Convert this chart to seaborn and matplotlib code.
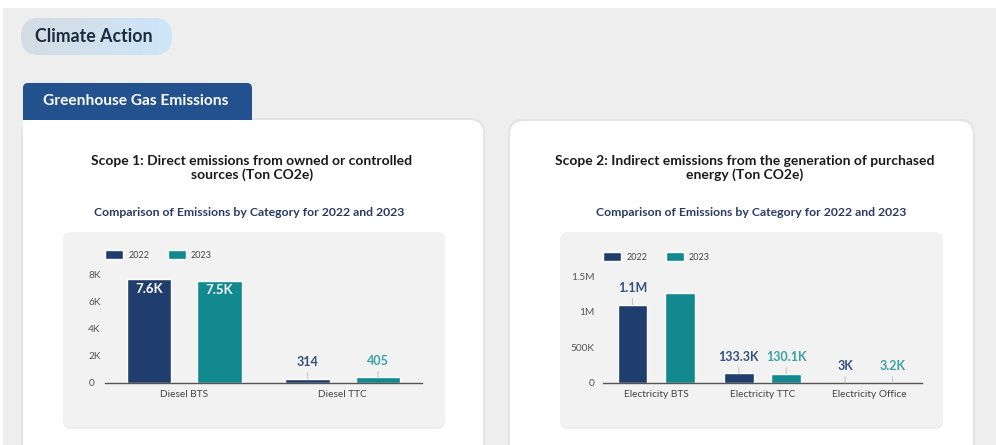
import numpy as np
import pandas as pd
import matplotlib
matplotlib.use("Agg")
import matplotlib.pyplot as plt
import seaborn as sns
from matplotlib.patches import FancyBboxPatch, Rectangle, Patch
from matplotlib.colors import LinearSegmentedColormap

# ---- data -------------------------------------------------------------
years = ["2022", "2023"]

scope1_categories = ["Diesel BTS", "Diesel TTC"]
scope1_2022 = [7600, 314]
scope1_2023 = [7500, 405]
scope1_labels_2022 = ["7.6K", "314"]
scope1_labels_2023 = ["7.5K", "405"]
scope1_ticks = [0, 2000, 4000, 6000, 8000]

scope2_categories = ["Electricity BTS", "Electricity TTC", "Electricity Office"]
scope2_2022 = [1100000, 133300, 3000]
scope2_2023 = [1260000, 130100, 3200]
scope2_labels_2022 = ["1.1M", "133.3K", "3K"]
scope2_labels_2023 = ["", "130.1K", "3.2K"]
scope2_ticks = [0, 500000, 1000000, 1500000]

NAVY = "#1f3d6d"
TEAL = "#11898e"
LABEL_COLORS = ["#34507f", "#3aa0a6"]

sns.set_theme(style="white")
plt.rcParams["font.family"] = ["Lato", "DejaVu Sans"]

W, H = 996, 445
fig = plt.figure(figsize=(W / 100, H / 100), dpi=100)
fig.patch.set_facecolor("white")

# background canvas in pixel units
bg = fig.add_axes([0, 0, 1, 1])
bg.axis("off")


def box(x0, y0, x1, y1, r, fc, z=1, **kw):
    p = FancyBboxPatch((x0, y0), x1 - x0, y1 - y0,
                       boxstyle=f"round,pad=0,rounding_size={r}",
                       fc=fc, ec="none", zorder=z, **kw)
    bg.add_patch(p)
    return p


bg.add_patch(Rectangle((3, 8), W, H, fc="#eeeeee", ec="none", zorder=0))

# "Climate Action" pill with gradient
pill = box(21, 18, 172, 55, 18, "none", z=2)
grad = np.linspace(0, 1, 256).reshape(1, -1)
cmap = LinearSegmentedColormap.from_list("pill", ["#d5dce3", "#cce6f9"])
bg.imshow(grad, extent=(21, 172, 55, 18), cmap=cmap, aspect="auto",
          clip_path=pill, zorder=2)
bg.text(35, 36, "Climate Action", fontsize=12.8, fontweight="bold",
        color="#1c2b3f", va="center", ha="left", zorder=3)

# cards
box(21, 118, 485, 490, 15, "#000000", z=1, alpha=0.04)
box(508, 119, 975, 490, 15, "#000000", z=1, alpha=0.04)
box(23, 120, 483, 490, 14, "white", z=3)
bg.add_patch(Rectangle((23, 120), 20, 20, fc="white", ec="none", zorder=3))
box(510, 121, 973, 490, 14, "white", z=3)

# tab
box(23, 83, 252, 130, 5, "#22518e", z=2)
bg.text(43, 101, "Greenhouse Gas Emissions", fontsize=11.2, fontweight="bold",
        color="white", va="center", ha="left", zorder=4)

# chart panels
box(63, 234, 445, 429, 8, "#000000", z=4, alpha=0.07)
box(63, 232, 445, 427, 8, "#f2f2f2", z=4)
box(560, 234, 943, 429, 8, "#000000", z=4, alpha=0.07)
box(560, 232, 943, 427, 8, "#f2f2f2", z=4)

# titles
bg.text(252, 168, "Scope 1: Direct emissions from owned or controlled\nsources (Ton CO2e)",
        ha="center", va="center", fontsize=10, fontweight="bold",
        color="#1a1a1a", linespacing=1.2, zorder=5)
bg.text(249, 213, "Comparison of Emissions by Category for 2022 and 2023",
        ha="center", va="center", fontsize=8.8, fontweight="bold",
        color="#2b3a63", zorder=5)
bg.text(745, 168, "Scope 2: Indirect emissions from the generation of purchased\nenergy (Ton CO2e)",
        ha="center", va="center", fontsize=10, fontweight="bold",
        color="#1a1a1a", linespacing=1.2, zorder=5)
bg.text(751, 213, "Comparison of Emissions by Category for 2022 and 2023",
        ha="center", va="center", fontsize=8.8, fontweight="bold",
        color="#2b3a63", zorder=5)

bg.set_xlim(0, W)
bg.set_ylim(H, 0)


def fmt(v):
    if v >= 1e6:
        s = f"{v / 1e6:.1f}".rstrip("0").rstrip(".")
        return s + "M"
    if v >= 1e3:
        s = f"{v / 1e3:.1f}".rstrip("0").rstrip(".")
        return s + "K"
    return str(int(v))


def draw_chart(rect, categories, v22, v23, lab22, lab23, ticks, left_ticks):
    x0, y0, x1, y1 = rect
    ax = fig.add_axes([x0 / W, 1 - y1 / H, (x1 - x0) / W, (y1 - y0) / H])
    n = len(categories)
    df = pd.DataFrame({
        "category": categories * 2,
        "year": [years[0]] * n + [years[1]] * n,
        "value": v22 + v23,
    })
    sns.barplot(data=df, x="category", y="value", hue="year",
                palette=[NAVY, TEAL], width=0.89, gap=0.37, saturation=1,
                legend=False, ax=ax)
    ax.patch.set_alpha(0)
    ax.set_xlim(-0.5, n - 0.5)
    ax.set_ylim(0, ticks[-1])
    ax.set_yticks(ticks, [fmt(t) for t in ticks])
    ax.set_xlabel("")
    ax.set_ylabel("")
    for s in ["top", "right", "left"]:
        ax.spines[s].set_visible(False)
    ax.spines["bottom"].set_color("#555555")
    ax.spines["bottom"].set_linewidth(1)
    ax.tick_params(axis="x", length=0, pad=5, labelsize=7.3, labelcolor="#444444")
    if left_ticks:
        ax.tick_params(axis="y", length=0, pad=12, labelsize=7.3, labelcolor="#555555")
        for t in ax.get_yticklabels():
            t.set_horizontalalignment("left")
    else:
        ax.tick_params(axis="y", length=0, pad=6, labelsize=7.3, labelcolor="#555555")

    ymax = ticks[-1]
    for cont, labels, col in zip(ax.containers, [lab22, lab23], LABEL_COLORS):
        for bar, lab in zip(cont, labels):
            if not lab:
                continue
            x = bar.get_x() + bar.get_width() / 2
            h = bar.get_height()
            if h / ymax > 0.9:
                ax.annotate(lab, xy=(x, h), xytext=(0, -2.5), textcoords="offset points",
                            ha="center", va="top", fontsize=9.5, fontweight="bold",
                            color="white", annotation_clip=False)
            else:
                ax.annotate(lab, xy=(x, h), xytext=(0, 12), textcoords="offset points",
                            ha="center", va="center", fontsize=9, fontweight="bold",
                            color=col, annotation_clip=False,
                            arrowprops=dict(arrowstyle="-", color="#c8c8c8", lw=0.8,
                                            shrinkA=1, shrinkB=0))

    handles = [Patch(fc=NAVY), Patch(fc=TEAL)]
    leg = ax.legend(handles, years, loc="center left",
                    bbox_to_anchor=(0, 1 + 19 / (y1 - y0)), ncol=2, frameon=False,
                    fontsize=6.5, handlelength=2.0, handleheight=1.0,
                    handletextpad=0.6, columnspacing=2.0, borderpad=0,
                    borderaxespad=0)
    for t in leg.get_texts():
        t.set_color("#444444")
    return ax


draw_chart((105, 274, 422, 383), scope1_categories, scope1_2022, scope1_2023,
           scope1_labels_2022, scope1_labels_2023, scope1_ticks, True)
draw_chart((603, 276, 922, 383), scope2_categories, scope2_2022, scope2_2023,
           scope2_labels_2022, scope2_labels_2023, scope2_ticks, False)

fig.savefig("out.png", dpi=100)
